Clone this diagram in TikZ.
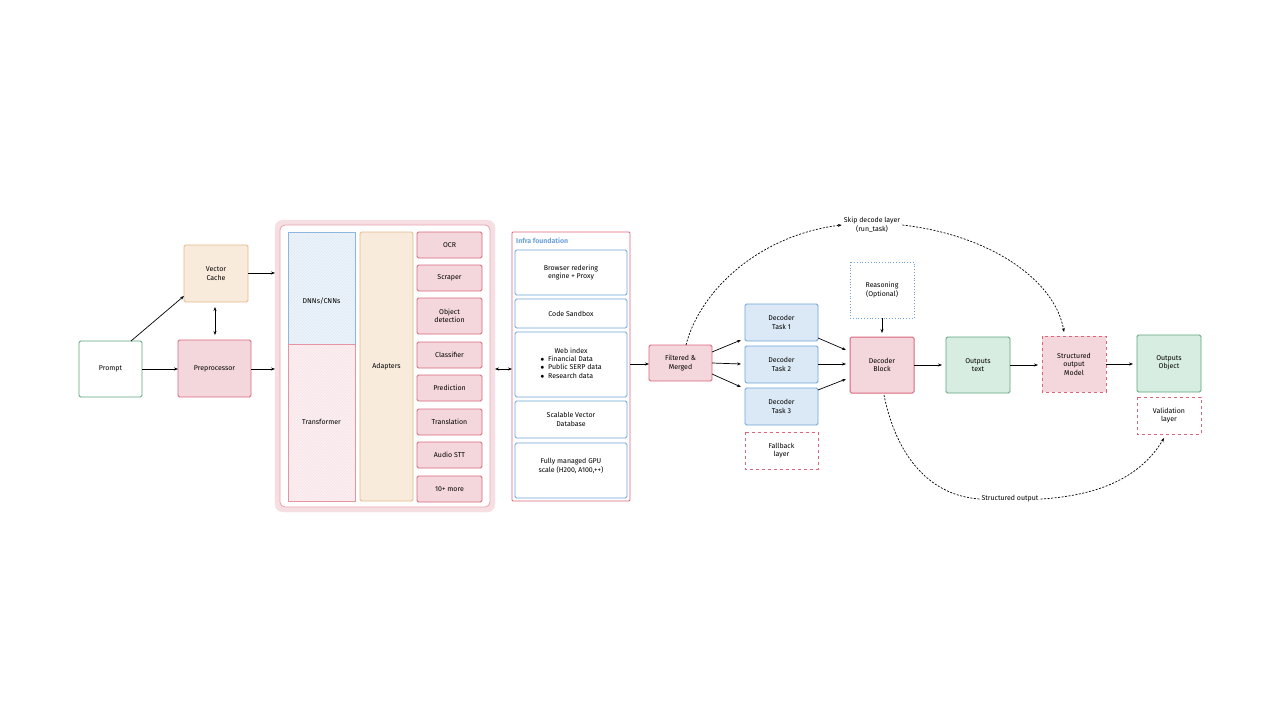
\documentclass[tikz,border=0pt]{standalone}
\usepackage{fontspec}
\setmainfont{Fira Sans}
\usetikzlibrary{patterns,arrows.meta}
\definecolor{pkf}{HTML}{F4D7DC}\definecolor{pkd}{HTML}{D9667A}
\definecolor{blf}{HTML}{DBE9F6}\definecolor{bld}{HTML}{6FA3D8}
\definecolor{grf}{HTML}{D8EDE2}\definecolor{grd}{HTML}{5AA57A}
\definecolor{orf}{HTML}{F8EBDC}\definecolor{ord}{HTML}{E6B98A}
\begin{document}
\begin{tikzpicture}[x=1pt,y=-1pt,
 every node/.style={font=\fontsize{7}{8.5}\selectfont,align=center,inner sep=0},
 box/.style={draw,rounded corners=1.5pt,line width=0.8pt},
 pk/.style={box,fill=pkf,draw=pkd},
 bl/.style={box,fill=blf,draw=bld},
 wb/.style={box,fill=white,draw=bld},
 gr/.style={box,fill=grf,draw=grd},
 dr/.style={draw=pkd,dashed,line width=0.7pt,fill=white},
 ar/.style={-{Stealth[length=4pt]},line width=0.7pt},
 dar/.style={ar,dashed,dash pattern=on 2pt off 1.5pt}]
\useasboundingbox (0,0) rectangle (1280,720);
% left
\draw[box,draw=grd,fill=white] (79,341) rectangle (142,397); \node (prompt) at (110.5,369) {Prompt};
\draw[box,fill=orf,draw=ord] (184,245) rectangle (248,302); \node (vc) at (216,273.5) {Vector\\Cache};
\draw[pk] (178,340) rectangle (251,397); \node (pre) at (214.5,368.5) {Preprocessor};
\coordinate (promptR) at (142,369); \coordinate (promptT) at (131,341);
\coordinate (vcL) at (184,296); \coordinate (vcR) at (248,273); \coordinate (vcB) at (215,307);
\coordinate (preL) at (178,369); \coordinate (preR) at (251,369); \coordinate (preT) at (215,335);
\draw[ar] (promptR) -- (preL);
\draw[ar] (promptT) -- (vcL);
\draw[ar,{Stealth[length=4pt]}-{Stealth[length=4pt]}] (vcB) -- (preT);
% container
\draw[rounded corners=8pt,fill=pkf!80,draw=pkf!80] (275,220) rectangle (495,512);
\draw[rounded corners=5pt,fill=white,draw=pkd!60,line width=0.8pt] (280,225) rectangle (490,507);
\coordinate (cL1) at (275,273); \coordinate (cL2) at (275,369); \coordinate (cR) at (495,369);
\draw[ar] (vcR) -- (cL1); \draw[ar] (preR) -- (cL2);
\fill[blf!50] (288,232) rectangle (355,344);
\draw[draw=bld!80,pattern=north east lines,pattern color=bld!25,line width=0.6pt] (288,232) rectangle (355,344);
\node (dnn) at (321.5,301) {DNNs/CNNs};
\fill[pkf!40] (288,344) rectangle (355,501);
\draw[draw=pkd!70,pattern=north east lines,pattern color=pkd!18,line width=0.6pt] (288,344) rectangle (355,501);
\node (tr) at (321.5,422) {Transformer};
\draw[box,fill=orf,draw=ord] (360,232) rectangle (413,501); \node (ad) at (386.5,367) {Adapters};
\foreach \a/\b/\t/\n in {232/258/OCR/a1,265/291/Scraper/a2,298/334/Object\\detection/a3,342/368/Classifier/a4,375/401/Prediction/a5,409/435/Translation/a6,442/468/Audio STT/a7,476/502/10+ more/a8}{
 \draw[pk] (417,\a) rectangle (482,\b); \node (\n) at (449.5,{(\a+\b)/2}) {\t};}
% infra
\draw[draw=pkd,line width=0.8pt,rounded corners=1pt] (512,232) rectangle (630,501);
\node[anchor=west,text=bld,font=\fontsize{7}{8}\selectfont\bfseries] (inf) at (516,241) {Infra foundation};
\coordinate (iL) at (512,369); \coordinate (iR) at (630,364);
\draw[ar,{Stealth[length=4pt]}-{Stealth[length=4pt]}] (cR) -- (iL);
\draw[wb] (515,250) rectangle (627,295); \node (i1) at (571,272.5) {Browser redering\\engine + Proxy};
\draw[wb] (515,299) rectangle (627,328); \node (i2) at (571,313.5) {Code Sandbox};
\draw[wb] (515,332) rectangle (627,397); \node (i3) at (571,364.5) {Web index\\[1pt]\begin{tabular}{@{}l@{}}$\bullet$\ \ Financial Data\\$\bullet$\ \ Public SERP data\\$\bullet$\ \ Research data\end{tabular}};
\draw[wb] (515,401) rectangle (627,438); \node (i4) at (571,419.5) {Scalable Vector\\Database};
\draw[wb] (515,443) rectangle (627,498); \node (i5) at (571,466) {Fully managed GPU\\scale (H200, A100,++)};
% filtered
\draw[pk] (649,345) rectangle (712,381); \node (fm) at (680.5,363) {Filtered \&\\Merged};
\coordinate (fmL) at (649,364); \coordinate (fmR) at (712,363); \coordinate (fmT) at (686,345);
\draw[ar] (iR) -- (fmL);
\draw[bl] (745,304) rectangle (818,341); \node (d1) at (781.5,322.5) {Decoder\\Task 1};
\draw[bl] (745,346) rectangle (818,383); \node (d2) at (781.5,364.5) {Decoder\\Task 2};
\draw[bl] (745,388) rectangle (818,425); \node (d3) at (781.5,406.5) {Decoder\\Task 3};
\draw[dr] (745,432) rectangle (818,469); \node (fb) at (781.5,450.5) {Fallback\\layer};
\draw[ar] (712,352) -- (741,340);
\draw[ar] (fmR) -- (741,364);
\draw[ar] (712,374) -- (741,387);
\draw[draw=pkd,fill=pkf,line width=1pt,rounded corners=1.5pt] (850,337) rectangle (914,393); \node (db) at (882,365) {Decoder\\Block};
\draw[draw=bld,dotted,line width=0.8pt] (850,262) rectangle (914,318); \node (rs) at (882,290) {Reasoning\\(Optional)};
\draw[ar] (882,318) -- (882,333);
\draw[ar] (818,338) -- (846,350);
\draw[ar] (818,364) -- (846,364);
\draw[ar] (818,390) -- (846,379);
\draw[gr] (946,337) rectangle (1010,393); \node (ot) at (978,365) {Outputs\\text};
\draw[draw=pkd,dashed,fill=pkf,line width=0.7pt] (1042,336) rectangle (1106,392); \node (sm) at (1074,364) {Structured\\output\\Model};
\draw[gr] (1137,335) rectangle (1201,392); \node (oo) at (1169,363) {Outputs\\Object};
\draw[dr] (1137,397) rectangle (1201,434); \node (vl) at (1169,415.5) {Validation\\layer};
\draw[ar] (914,365) -- (942,365);
\draw[ar] (1010,365) -- (1038,365);
\draw[ar] (1106,364) -- (1133,364);
% arcs
\node[fill=white,inner sep=2pt] (skip) at (872,225) {Skip decode layer\\(run\_task)};
\draw[dar] (fmT) .. controls (700,290) and (760,235) .. (skip.west);
\draw[dar] (skip.east) .. controls (990,235) and (1055,280) .. (1064,332);
\node[fill=white,inner sep=2pt] (so) at (1010,499) {Structured output};
\draw[dash pattern=on 2pt off 1.5pt,line width=0.7pt] (884,395) .. controls (895,450) and (925,495) .. (so.west);
\draw[dar] (so.east) .. controls (1110,495) and (1145,470) .. (1164,438);
\end{tikzpicture}
\end{document}
